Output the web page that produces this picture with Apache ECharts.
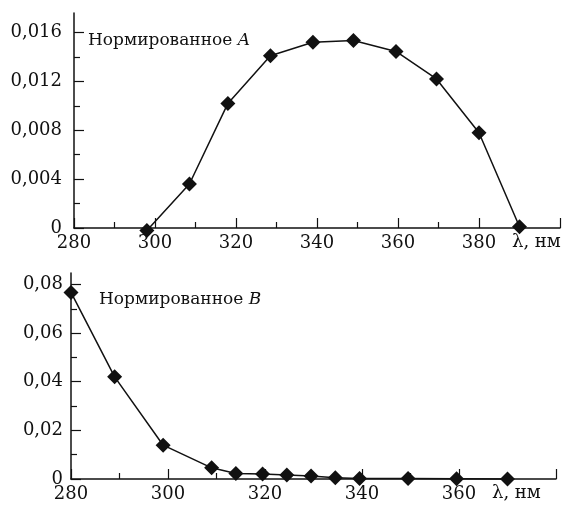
<!DOCTYPE html>
<html>
<head>
<meta charset="utf-8">
<script src="https://cdn.jsdelivr.net/npm/echarts@6/dist/echarts.min.js"></script>
<style>
html, body { margin: 0; padding: 0; background: #fff; }
#chart { width: 564px; height: 508px; }
</style>
</head>
<body>
<div id="chart"></div>
<script>
// верхний график: нормированное A
var lambdaA = [298, 308.5, 318, 328.5, 339, 349, 359.5, 369.5, 380, 390];
var valuesA = [-0.0002, 0.0036, 0.0102, 0.0141, 0.0152, 0.01535, 0.01445, 0.0122, 0.0078, 0.0001];
var xTicksA = [280, 300, 320, 340, 360, 380, 400];
var xMinorA = [290, 310, 330, 350, 370, 390];
var xLabelsA = [280, 300, 320, 340, 360, 380];
var yTicksA = [0, 0.004, 0.008, 0.012, 0.016];
var yMinorA = [0.002, 0.006, 0.010, 0.014];

// нижний график: нормированное B
var lambdaB = [280, 289, 299, 309, 314, 319.5, 324.5, 329.5, 334.5, 339.5, 349.5, 359.5, 370];
var valuesB = [0.0767, 0.042, 0.0139, 0.0046, 0.0023, 0.0021, 0.0016, 0.0012, 0.0005, 0.0002, 0.0002, 0.0001, 0];
var xTicksB = [280, 300, 320, 340, 360, 380];
var xMinorB = [290, 310, 330, 350, 370];
var xLabelsB = [280, 300, 320, 340, 360];
var yTicksB = [0, 0.02, 0.04, 0.06, 0.08];
var yMinorB = [0.01, 0.03, 0.05, 0.07];

var font = 'DejaVu Serif';
var ink = '#111';

function pairs(xs, ys) {
    var res = [];
    for (var i = 0; i < xs.length; i++) res.push([xs[i], ys[i]]);
    return res;
}
function fmt(d) {
    return function (v) { return v === 0 ? '0' : v.toFixed(d).replace('.', ','); };
}

function xAxes(grid, min, max, ticks, minor, labels, gap) {
    return [{
        type: 'value', gridIndex: grid, position: 'bottom', min: min, max: max, interval: 20,
        axisLine: { lineStyle: { color: ink, width: 1.5 } },
        axisTick: { inside: true, length: 10, customValues: ticks, lineStyle: { color: ink, width: 1.2 } },
        axisLabel: { customValues: labels, margin: 6, color: ink, fontFamily: font, fontSize: 18 },
        splitLine: { show: false },
        name: 'λ, нм', nameLocation: 'end', nameGap: gap,
        nameTextStyle: { color: ink, fontFamily: font, fontSize: 18, align: 'left', verticalAlign: 'top', padding: [5, 0, 0, 0] }
    }, {
        type: 'value', gridIndex: grid, position: 'bottom', offset: 0, min: min, max: max, interval: 20,
        axisLine: { show: false },
        axisTick: { inside: true, length: 6, customValues: minor, lineStyle: { color: ink, width: 1.2 } },
        axisLabel: { show: false }, splitLine: { show: false }
    }];
}
function yAxes(grid, max, ticks, minor, d, margin) {
    return [{
        type: 'value', gridIndex: grid, position: 'left', min: 0, max: max,
        axisLine: { show: true, lineStyle: { color: ink, width: 1.5 } },
        axisTick: { show: true, inside: true, length: 10, customValues: ticks, lineStyle: { color: ink, width: 1.2 } },
        axisLabel: { customValues: ticks, formatter: fmt(d), margin: margin, color: ink, fontFamily: font, fontSize: 18 },
        splitLine: { show: false }
    }, {
        type: 'value', gridIndex: grid, position: 'left', offset: 0, min: 0, max: max,
        axisLine: { show: false },
        axisTick: { show: true, inside: true, length: 6, customValues: minor, lineStyle: { color: ink, width: 1.2 } },
        axisLabel: { show: false }, splitLine: { show: false }
    }];
}

var titleRich = {
    n: { fontFamily: font, fontSize: 17, fontWeight: 'normal', color: ink },
    i: { fontFamily: font, fontSize: 17, fontWeight: 'normal', color: ink, fontStyle: 'italic' }
};

var chart = echarts.init(document.getElementById('chart'));
var option = {
    backgroundColor: '#fff',
    animation: false,
    title: [{
        text: '{n|Нормированное }{i|A}', left: 83, top: 27,
        textStyle: { fontWeight: 'normal', rich: titleRich }
    }, {
        text: '{n|Нормированное }{i|B}', left: 94, top: 286,
        textStyle: { fontWeight: 'normal', rich: titleRich }
    }],
    grid: [
        { left: 74, top: 13, width: 486, height: 215 },
        { left: 71, top: 273, width: 485, height: 206 }
    ],
    xAxis: xAxes(0, 280, 400, xTicksA, xMinorA, xLabelsA, -48).concat(xAxes(1, 280, 380, xTicksB, xMinorB, xLabelsB, -64)),
    yAxis: yAxes(0, 0.0176, yTicksA, yMinorA, 3, 12).concat(yAxes(1, 0.0847, yTicksB, yMinorB, 2, 8)),
    series: [{
        type: 'line', xAxisIndex: 0, yAxisIndex: 0,
        data: pairs(lambdaA, valuesA),
        symbol: 'diamond', symbolSize: 15, clip: false,
        lineStyle: { color: ink, width: 1.5 },
        itemStyle: { color: ink }
    }, {
        type: 'line', xAxisIndex: 2, yAxisIndex: 2,
        data: pairs(lambdaB, valuesB),
        symbol: 'diamond', symbolSize: 15, clip: false,
        lineStyle: { color: ink, width: 1.5 },
        itemStyle: { color: ink }
    }]
};
chart.setOption(option);
window.onresize = chart.resize;
</script>
</body>
</html>
